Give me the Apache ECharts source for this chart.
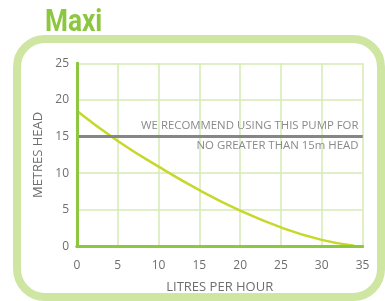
<!DOCTYPE html>
<html><head><meta charset="utf-8">
<script src="https://cdn.jsdelivr.net/npm/echarts@6/dist/echarts.min.js"></script>
<style>html,body{margin:0;padding:0;background:#fff}#c{width:385px;height:301px}</style>
</head><body><div id="c"></div>
<script>
const flowLph = [0, 5, 10, 15, 20, 25, 30, 34];
const headM = [18.5, 14.4, 10.9, 7.7, 4.9, 2.6, 0.9, 0.1];
const xTicks = [0, 5, 10, 15, 20, 25, 30, 35];
const yTicks = [0, 5, 10, 15, 20, 25];
const recommendLimit = 15;
const noteTop = 'WE RECOMMEND USING THIS PUMP FOR';
const noteBottom = 'NO GREATER THAN 15m HEAD';

const green = '#8dc63f', grid = '#d6eab4', gray = '#6e6e6e';
const chart = echarts.init(document.getElementById('c'), null, {renderer: 'canvas'});
const tickFont = {color: gray, fontFamily: 'Open Sans', fontSize: 12};
const edgeAxis = {min: 0, axisLine: {show: true, lineStyle: {color: green, width: 3}}, axisTick: {show: false}, axisLabel: {show: false}, splitLine: {show: false}, z: 5};
chart.setOption({
  animation: false,
  backgroundColor: '#fff',
  graphic: [
    {type: 'rect', shape: {x: 17, y: 39, width: 364, height: 258, r: 28}, style: {fill: 'none', stroke: '#cfe5a2', lineWidth: 8}, z: -1},
    {type: 'text', x: 45, y: 7, scaleX: 0.82, style: {text: 'Maxi', fill: green, textVerticalAlign: 'top', font: 'bold 32px Roboto, sans-serif'}}
  ],
  grid: {left: 77, right: 22.5, top: 63.3, bottom: 54.5, show: false},
  xAxis: [
    {type: 'value', min: 0, max: 35, interval: 5, name: 'LITRES PER HOUR', nameLocation: 'middle', nameGap: 34,
     nameTextStyle: {color: gray, fontFamily: 'Open Sans', fontSize: 13},
     axisLine: {show: true, lineStyle: {color: green, width: 3}}, axisTick: {show: false},
     axisLabel: Object.assign({margin: 13, formatter: v => xTicks.includes(v) ? String(v) : ''}, tickFont),
     splitLine: {show: true, lineStyle: {color: grid, width: 1.5}}},
    Object.assign({type: 'value', position: 'top', max: 35}, edgeAxis)
  ],
  yAxis: [
    {type: 'value', min: 0, max: 25, interval: 5, name: 'METRES HEAD', nameLocation: 'middle', nameGap: 21,
     nameTextStyle: {color: gray, fontFamily: 'Open Sans', fontSize: 13},
     axisLine: {show: true, lineStyle: {color: green, width: 3}}, axisTick: {show: false},
     axisLabel: Object.assign({margin: 8, formatter: v => yTicks.includes(v) ? String(v) : ''}, tickFont),
     splitLine: {show: true, lineStyle: {color: grid, width: 1.5}}},
    Object.assign({type: 'value', position: 'right', max: 25}, edgeAxis)
  ],
  series: [{
    type: 'line', smooth: true, symbol: 'none',
    data: flowLph.map((x, i) => [x, headM[i]]),
    lineStyle: {color: '#c6d82c', width: 2.5}, z: 3,
    markLine: {
      silent: true, symbol: 'none',
      lineStyle: {color: '#868686', width: 3, type: 'solid'},
      label: {color: '#8a8a8a', fontFamily: 'Open Sans', fontSize: 11.4},
      data: [
        {yAxis: recommendLimit, label: {position: 'insideEndTop', formatter: noteTop, distance: [4, 5]}},
        {yAxis: recommendLimit, label: {position: 'insideEndBottom', formatter: noteBottom, distance: [4, 4]}}
      ]
    }
  }]
});
</script></body></html>
